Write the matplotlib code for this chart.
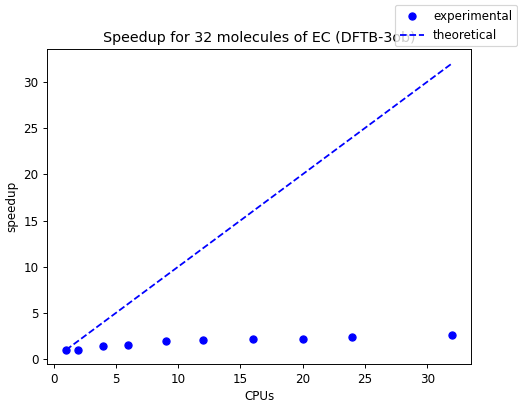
import matplotlib
matplotlib.use("Agg")
import matplotlib.pyplot as plt

cpus = [1, 2, 4, 6, 9, 12, 16, 20, 24, 32]
speedup = [1.0, 1.0, 1.4, 1.58, 1.94, 2.05, 2.23, 2.23, 2.45, 2.6]
ideal = [1, 32]

dpi = 85.6
fig = plt.figure(figsize=(518 / dpi, 400 / dpi), dpi=dpi)
ax = fig.add_axes([46.7 / 518, 1 - 364.3 / 400, 424.7 / 518, 315.3 / 400])
ax.plot(cpus, speedup, 'bo', label="experimental")
ax.plot(ideal, ideal, 'b--', label="theoretical")
ax.set_title("Speedup for 32 molecules of EC (DFTB-3ob)")
ax.set_xlabel("CPUs")
ax.set_ylabel("speedup")
fig.legend(loc="upper right", bbox_to_anchor=(517 / 518, 1 - 5 / 400), borderaxespad=0)
fig.savefig("out.png", dpi=dpi)
